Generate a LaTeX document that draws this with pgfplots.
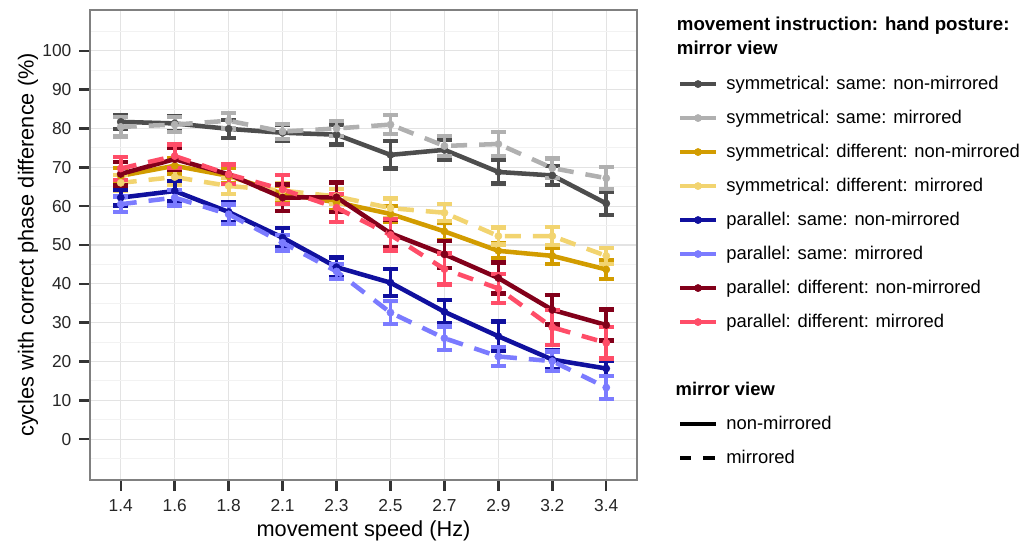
\documentclass[border=0pt]{standalone}
\usepackage{fontspec}
\setmainfont{Liberation Sans}
\usepackage{pgfplots}
\pgfplotsset{compat=1.18}
\definecolor{cA}{HTML}{4D4D4D}
\definecolor{cB}{HTML}{B0B0B0}
\definecolor{cC}{HTML}{D29C00}
\definecolor{cD}{HTML}{F2D470}
\definecolor{cE}{HTML}{10109E}
\definecolor{cF}{HTML}{7B7BFF}
\definecolor{cG}{HTML}{82001A}
\definecolor{cH}{HTML}{FF4D68}
\pgfplotsset{plainkey/.style={legend image code/.code={\draw[##1] (0pt,0pt) -- (27pt,0pt);}}}
\begin{document}
\begin{tikzpicture}
\useasboundingbox (-67.5pt,-47.25pt) rectangle (702.75pt,360pt);
\begin{axis}[
  scale only axis,
  width=410.25pt, height=352.5pt,
  xmin=-0.57, xmax=9.57,
  ymin=-10.5, ymax=110.5,
  xtick={0,...,9},
  xticklabels={1.4,1.6,1.8,2.1,2.3,2.5,2.7,2.9,3.2,3.4},
  ytick={0,10,...,100},
  minor ytick={-5,5,...,105},
  minor tick length=0pt,
  grid=both,
  major grid style={black!11, line width=0.9pt},
  minor grid style={black!5, line width=0.7pt},
  axis line style={draw=black!50, line width=0.9pt},
  tick align=outside,
  major tick length=8pt,
  tick style={black!80, line width=1.8pt},
  xtick pos=bottom, ytick pos=left,
  /pgf/number format/assume math mode=true,
  ticklabel style={font=\fontsize{13}{15}\selectfont, text=black!85},
  xticklabel style={yshift=-3pt},
  yticklabel style={xshift=-2.5pt},
  xlabel={movement speed (Hz)},
  ylabel={cycles with correct phase difference (\%)},
  label style={font=\fontsize{16.3}{19}\selectfont},
  xlabel style={at={(axis description cs:0.5,-0.108)}, anchor=center},
  ylabel style={at={(axis description cs:-0.1133,0.5)}, anchor=center},
  clip=false,
  every axis plot/.append style={line width=3.4pt, mark=*, mark size=2.7pt, mark options={solid, line width=0.4pt},
     /pgfplots/error bars/y dir=both, /pgfplots/error bars/y explicit,
     /pgfplots/error bars/error bar style={line width=2.8pt, solid},
     /pgfplots/error bars/error mark options={rotate=90, mark size=5.6pt, line width=3.2pt, solid}},
  legend image code/.code={\draw[mark repeat=2,mark phase=2,#1,solid] plot coordinates {(0pt,0pt)(13.5pt,0pt)(27pt,0pt)};},
  legend cell align=left,
  legend style={draw=none, fill=none, at={(axis description cs:1.0744,0.863)}, anchor=north west,
     inner sep=0pt, outer sep=0pt, row sep=11pt, column sep=6pt,
     nodes={inner sep=0pt, text height=11pt, text depth=3.5pt},
     font=\fontsize{13.8}{16}\selectfont},
]
\addplot[cA] coordinates {(0,81.7)+-(0,1.8) (1,81.3)+-(0,2) (2,79.9)+-(0,2.3) (3,78.9)+-(0,2) (4,78.4)+-(0,2.5) (5,73.2)+-(0,3.5) (6,74.5)+-(0,2.5) (7,68.8)+-(0,3) (8,67.9)+-(0,2.5) (9,60.7)+-(0,3)};
\addlegendentry{symmetrical: same: non-mirrored}
\addplot[cB, dash pattern=on 12pt off 9pt] coordinates {(0,80.4)+-(0,2.5) (1,81)+-(0,2) (2,82)+-(0,2) (3,79.2)+-(0,2) (4,80)+-(0,2) (5,81)+-(0,2.5) (6,75.5)+-(0,2.5) (7,76)+-(0,3) (8,69.8)+-(0,2.5) (9,67.2)+-(0,2.8)};
\addlegendentry{symmetrical: same: mirrored}
\addplot[cC] coordinates {(0,67.8)+-(0,2) (1,70.4)+-(0,2) (2,67.8)+-(0,2) (3,63.2)+-(0,2) (4,61)+-(0,2) (5,58)+-(0,2) (6,53.5)+-(0,2.2) (7,48.5)+-(0,2) (8,47.2)+-(0,2) (9,43.7)+-(0,2.5)};
\addlegendentry{symmetrical: different: non-mirrored}
\addplot[cD, dash pattern=on 12pt off 9pt] coordinates {(0,66)+-(0,2) (1,67.5)+-(0,2) (2,65.2)+-(0,2) (3,64)+-(0,2) (4,62.5)+-(0,2) (5,59.5)+-(0,2.5) (6,58.3)+-(0,2.2) (7,52.3)+-(0,2.2) (8,52.3)+-(0,2.3) (9,47.2)+-(0,2)};
\addlegendentry{symmetrical: different: mirrored}
\addplot[cE] coordinates {(0,62.2)+-(0,2) (1,63.9)+-(0,2.5) (2,58.5)+-(0,2.5) (3,51.9)+-(0,2.5) (4,44.3)+-(0,2.5) (5,40.3)+-(0,3.5) (6,32.8)+-(0,3) (7,26.5)+-(0,3.8) (8,20.5)+-(0,2.5) (9,18.2)+-(0,2)};
\addlegendentry{parallel: same: non-mirrored}
\addplot[cF, dash pattern=on 12pt off 9pt] coordinates {(0,60.5)+-(0,2) (1,62.2)+-(0,2) (2,57.9)+-(0,2.5) (3,50.6)+-(0,2) (4,43.2)+-(0,2) (5,32.6)+-(0,3) (6,26)+-(0,3) (7,21.3)+-(0,2.5) (8,20.1)+-(0,2.5) (9,13.3)+-(0,3)};
\addlegendentry{parallel: same: mirrored}
\addplot[cG] coordinates {(0,68.3)+-(0,3) (1,72.1)+-(0,2.8) (2,68.2)+-(0,2.5) (3,62.2)+-(0,3.4) (4,62.3)+-(0,3.8) (5,53)+-(0,3.5) (6,47.6)+-(0,3.5) (7,41.5)+-(0,4) (8,33.3)+-(0,3.8) (9,29.4)+-(0,4)};
\addlegendentry{parallel: different: non-mirrored}
\addplot[cH, dash pattern=on 12pt off 9pt] coordinates {(0,69.7)+-(0,3) (1,72.9)+-(0,3) (2,68.2)+-(0,2.5) (3,64.3)+-(0,3.8) (4,59.6)+-(0,3.6) (5,52.6)+-(0,4) (6,43.8)+-(0,4) (7,38.8)+-(0,3.8) (8,28.8)+-(0,4.5) (9,24.8)+-(0,4)};
\addlegendentry{parallel: different: mirrored}
\addlegendimage{empty legend}
\addlegendentry{}
\addlegendimage{empty legend}
\addlegendentry{\hspace*{-38pt}\textbf{mirror view}}
\addlegendimage{black, line width=3.5pt, plainkey}
\addlegendentry{non-mirrored}
\addlegendimage{black, line width=3.5pt, dash pattern=on 8.5pt off 9pt, plainkey}
\addlegendentry{mirrored}
\end{axis}
\node[anchor=base west, inner sep=0pt, font=\fontsize{14}{16}\selectfont\bfseries] at (440pt,336.75pt) {movement instruction: hand posture:};
\node[anchor=base west, inner sep=0pt, font=\fontsize{14}{16}\selectfont\bfseries] at (440pt,318.75pt) {mirror view};
\end{tikzpicture}
\end{document}
